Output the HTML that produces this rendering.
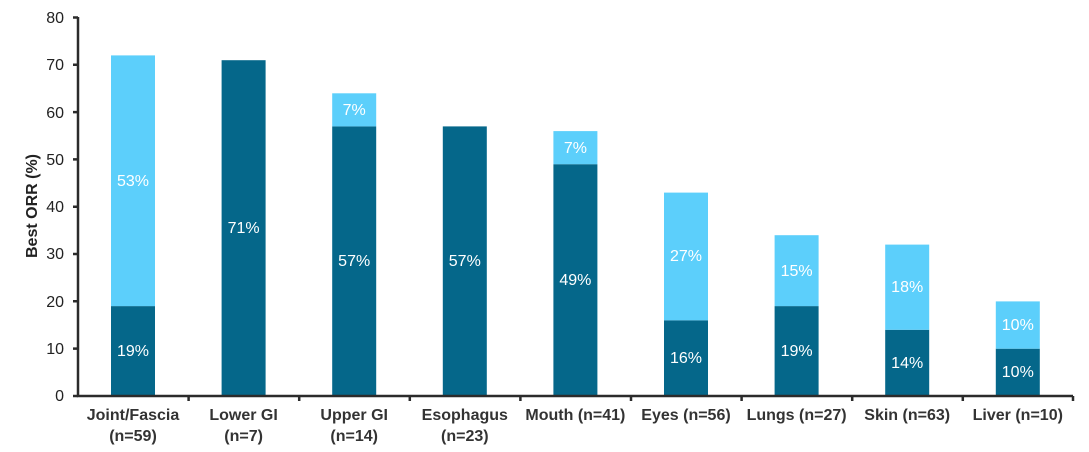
<!DOCTYPE html>
<html><head><meta charset="utf-8"><style>body{margin:0;background:#fff}svg{display:block;font-family:"Liberation Sans",Arial,sans-serif}</style></head><body>
<svg width="1089" height="452" viewBox="0 0 1089 452">
<g fill="#05678A">
<rect x="111" y="306.1" width="44" height="89.9"/>
<rect x="221.6" y="60.2" width="44" height="335.8"/>
<rect x="332.2" y="126.4" width="44" height="269.6"/>
<rect x="442.8" y="126.4" width="44" height="269.6"/>
<rect x="553.4" y="164.2" width="44" height="231.8"/>
<rect x="664" y="320.3" width="44" height="75.7"/>
<rect x="774.6" y="306.1" width="44" height="89.9"/>
<rect x="885.2" y="329.8" width="44" height="66.2"/>
<rect x="995.8" y="348.7" width="44" height="47.3"/>
</g>
<g fill="#5CCFFB">
<rect x="111" y="55.4" width="44" height="250.7"/>
<rect x="332.2" y="93.3" width="44" height="33.1"/>
<rect x="553.4" y="131.1" width="44" height="33.1"/>
<rect x="664" y="192.6" width="44" height="127.7"/>
<rect x="774.6" y="235.2" width="44" height="70.9"/>
<rect x="885.2" y="244.6" width="44" height="85.2"/>
<rect x="995.8" y="301.4" width="44" height="47.3"/>
</g>
<g fill="#fff" font-size="16" text-anchor="middle">
<text x="133" y="356">19%</text><text x="133" y="186">53%</text>
<text x="243.6" y="233">71%</text>
<text x="354.2" y="266">57%</text><text x="354.2" y="115">7%</text>
<text x="464.8" y="266">57%</text>
<text x="575.4" y="285">49%</text><text x="575.4" y="153">7%</text>
<text x="686" y="363">16%</text><text x="686" y="261">27%</text>
<text x="796.6" y="356">19%</text><text x="796.6" y="276">15%</text>
<text x="907.2" y="368">14%</text><text x="907.2" y="292">18%</text>
<text x="1017.8" y="377">10%</text><text x="1017.8" y="330">10%</text>
</g>
<g stroke="#2b2b2b" stroke-width="2.5" fill="none">
<path d="M78 17V397M76.75 396H1073"/>
<path d="M73 17.5H78M73 64.8H78M73 112.1H78M73 159.4H78M73 206.7H78M73 254H78M73 301.3H78M73 348.6H78M73 396H78"/>
<path d="M188.6 396v5M299.2 396v5M409.8 396v5M520.4 396v5M631 396v5M741.6 396v5M852.2 396v5M962.8 396v5M1073 396v5"/>
</g>
<g fill="#222" font-size="16" text-anchor="end">
<text x="64" y="23">80</text><text x="64" y="70">70</text><text x="64" y="118">60</text><text x="64" y="165">50</text><text x="64" y="212">40</text><text x="64" y="259">30</text><text x="64" y="307">20</text><text x="64" y="354">10</text><text x="64" y="401">0</text>
</g>
<text transform="translate(37 206) rotate(-90)" font-size="16" font-weight="bold" fill="#222" text-anchor="middle">Best ORR (%)</text>
<g fill="#333" font-size="16" font-weight="bold" text-anchor="middle">
<text x="133" y="420">Joint/Fascia</text><text x="133" y="441">(n=59)</text>
<text x="243.6" y="420">Lower GI</text><text x="243.6" y="441">(n=7)</text>
<text x="354.2" y="420">Upper GI</text><text x="354.2" y="441">(n=14)</text>
<text x="464.8" y="420">Esophagus</text><text x="464.8" y="441">(n=23)</text>
<text x="575.4" y="420">Mouth (n=41)</text>
<text x="686" y="420">Eyes (n=56)</text>
<text x="796.6" y="420">Lungs (n=27)</text>
<text x="907.2" y="420">Skin (n=63)</text>
<text x="1017.8" y="420">Liver (n=10)</text>
</g>
</svg>
</body></html>
